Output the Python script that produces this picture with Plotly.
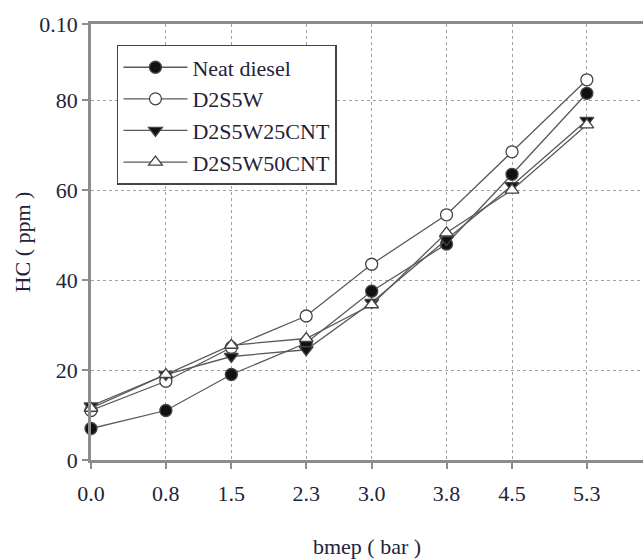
import plotly.graph_objects as go

# Brake mean effective pressure (bar) and hydrocarbon emissions (ppm)
bmep = [0.0, 0.8, 1.5, 2.3, 3.0, 3.8, 4.5, 5.3]
bmep_labels = ["0.0", "0.8", "1.5", "2.3", "3.0", "3.8", "4.5", "5.3"]

hc_neat_diesel = [7, 11, 19, 26, 37.5, 48, 63.5, 81.5]
hc_d2s5w = [11, 17.5, 25, 32, 43.5, 54.5, 68.5, 84.5]
hc_d2s5w25cnt = [12, 19, 23, 24.5, 35, 49, 61, 75.5]
hc_d2s5w50cnt = [11.5, 19, 25.5, 27, 34.5, 50.5, 60, 74.5]

y_tickvals = [0, 20, 40, 60, 80, 96.9]
y_ticktext = ["0", "20", "40", "60", "80", "0.10"]

series = [
    ("Neat diesel", hc_neat_diesel, "circle", "#111111", 12),
    ("D2S5W", hc_d2s5w, "circle", "white", 12),
    ("D2S5W25CNT", hc_d2s5w25cnt, "triangle-down", "#111111", 12),
    ("D2S5W50CNT", hc_d2s5w50cnt, "triangle-up", "white", 12),
]

serif = "Liberation Serif, Times New Roman, serif"
text_color = "#23233a"

fig = go.Figure()
for name, vals, symbol, fill, size in series:
    fig.add_trace(go.Scatter(
        x=bmep, y=vals, name=name, mode="lines+markers",
        line=dict(color="#5a5a5a", width=1.3),
        marker=dict(symbol=symbol, size=size, color=fill,
                    line=dict(color="#444444", width=1.3)),
        cliponaxis=False,
    ))

fig.update_layout(
    width=643, height=560,
    margin=dict(l=91, r=0, t=24, b=100),
    paper_bgcolor="white", plot_bgcolor="white",
    font=dict(family=serif, size=22, color=text_color),
    showlegend=True,
    legend=dict(
        x=0.047, y=0.952, xanchor="left", yanchor="top",
        bgcolor="white", bordercolor="#444444", borderwidth=1.5,
        font=dict(family=serif, size=22, color=text_color),
        tracegroupgap=0, itemwidth=64,
    ),
)

fig.update_xaxes(
    range=[0, 5.9], tickmode="array", tickvals=bmep, ticktext=bmep_labels,
    showline=True, linecolor="#8c8c8c", linewidth=2.5, mirror=True,
    ticks="outside", ticklen=6, tickcolor="#8c8c8c", tickwidth=1.5,
    ticklabelstandoff=6,
    showgrid=True, gridcolor="#a0a0a0", gridwidth=1, griddash="dot",
    zeroline=False,
    title=dict(text="bmep ( bar )", font=dict(family=serif, size=22), standoff=34),
    tickfont=dict(family=serif, size=22),
)
fig.update_yaxes(
    range=[0, 96.9], tickmode="array", tickvals=y_tickvals, ticktext=y_ticktext,
    showline=True, linecolor="#8c8c8c", linewidth=2.5,
    ticks="outside", ticklen=6, tickcolor="#8c8c8c", tickwidth=1.5,
    showgrid=True, gridcolor="#a0a0a0", gridwidth=1, griddash="dot",
    zeroline=False,
    title=dict(text="HC ( ppm )", font=dict(family=serif, size=22), standoff=3),
    tickfont=dict(family=serif, size=22),
)

fig.write_html("out.html")
